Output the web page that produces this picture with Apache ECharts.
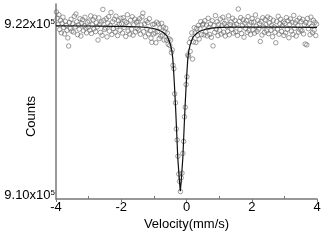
<!DOCTYPE html>
<html><head><meta charset="utf-8">
<script src="https://cdn.jsdelivr.net/npm/echarts@6/dist/echarts.min.js"></script>
<style>html,body{margin:0;padding:0;background:#fff}#c{width:323px;height:243px}</style>
</head><body><div id="c"></div>
<script>
// Channel grid of the spectrum (mm/s)
const velStart = -3.9875;
const velStep = 0.025;
const counts = [
9.2284,9.2241,9.2198,9.2265,9.2161,9.2226,9.2138,9.2206,9.2248,9.2176,9.2131,9.2219,9.2191,9.2156,9.2103,9.2046,9.2211,9.2168,9.2233,9.2150,
9.2201,9.2144,9.2254,9.2181,9.2270,9.2216,9.2126,9.2194,9.2164,9.2237,9.2116,9.2205,9.2230,9.2153,9.2188,9.2247,9.2171,9.2138,9.2213,9.2177,
9.2221,9.2157,9.2257,9.2134,9.2195,9.2230,9.2166,9.2248,9.2147,9.2209,9.2179,9.2088,9.2243,9.2198,9.2141,9.2214,9.2121,9.2302,9.2225,9.2162,
9.2173,9.2237,9.2110,9.2206,9.2251,9.2150,9.2189,9.2281,9.2127,9.2216,9.2168,9.2233,9.2144,9.2255,9.2182,9.2119,9.2223,9.2200,9.2156,9.2240,
9.2202,9.2137,9.2244,9.2176,9.2221,9.2113,9.2210,9.2265,9.2151,9.2193,9.2130,9.2227,9.2164,9.2251,9.2122,9.2196,9.2234,9.2145,9.2212,9.2169,
9.2220,9.2158,9.2237,9.2129,9.2193,9.2250,9.2276,9.2146,9.2200,9.2111,9.2222,9.2166,9.2210,9.2131,9.2237,9.2153,9.2101,9.2072,9.2196,9.2130,
9.2200,9.2137,9.2069,9.2213,9.2147,9.2201,9.2098,9.2173,9.2115,9.2205,9.2123,9.2179,9.2088,9.2145,9.2171,9.2088,9.2137,9.2058,9.2097,9.2050,
9.2088,9.2000,9.2019,9.1911,9.1887,9.1711,9.1649,9.1466,9.1389,9.1275,9.1151,9.1099,9.1028,9.1124,9.1157,9.1295,9.1379,9.1551,9.1618,9.1777,
9.1831,9.1983,9.1976,9.2070,9.2009,9.2099,9.2138,9.1955,9.2075,9.2174,9.2137,9.2071,9.2169,9.2120,9.2190,9.2095,9.2167,9.2217,9.2126,9.2194,
9.2201,9.2124,9.2223,9.2145,9.2192,9.2117,9.2240,9.2176,9.2127,9.2200,9.2107,9.2223,9.2047,9.2189,9.2142,9.2259,9.2164,9.2216,9.2119,9.2198,
9.2157,9.2235,9.2130,9.2190,9.2247,9.2142,9.2203,9.2116,9.2221,9.2182,9.2149,9.2257,9.2125,9.2196,9.2214,9.2163,9.2240,9.2137,9.2186,9.2225,
9.2145,9.2199,9.2120,9.2305,9.2218,9.2162,9.2245,9.2133,9.2189,9.2230,9.2108,9.2207,9.2170,9.2223,9.2141,9.2252,9.2156,9.2194,9.2127,9.2211,
9.2238,9.2159,9.2214,9.2136,9.2263,9.2185,9.2148,9.2226,9.2165,9.2203,9.2078,9.2217,9.2123,9.2244,9.2180,9.2141,9.2231,9.2196,9.2152,9.2249,
9.2133,9.2207,9.2239,9.2156,9.2191,9.2111,9.2226,9.2180,9.2142,9.2069,9.2218,9.2165,9.2254,9.2129,9.2201,9.2233,9.2148,9.2187,9.2215,9.2120,
9.2204,9.2138,9.2245,9.2163,9.2222,9.2104,9.2196,9.2235,9.2151,9.2213,9.2127,9.2260,9.2170,9.2208,9.2116,9.2224,9.2189,9.2144,9.2241,9.2159,
9.2217,9.2153,9.2232,9.2131,9.2194,9.2060,9.2210,9.2054,9.2239,9.2167,9.2205,9.2125,9.2248,9.2183,9.2140,9.2226,9.2157,9.2212,9.2119,9.2199
];
// Fitted curve
const fitVel = [-4.0,-3.0,-2.69,-1.79,-1.39,-1.09,-0.94,-0.79,-0.69,-0.59,-0.54,-0.49,-0.45,-0.42,-0.39,-0.365,-0.333,-0.30,-0.267,-0.23,-0.21,-0.19,-0.17,-0.15,-0.113,-0.08,-0.047,-0.015,0.01,0.04,0.07,0.11,0.16,0.21,0.31,0.41,0.56,0.71,1.01,1.41,2.31,3.0,4.0];
const fitCounts = [9.2187,9.2186,9.2185,9.2182,9.2179,9.2172,9.2164,9.2151,9.2137,9.2113,9.2088,9.2053,9.2013,9.1958,9.1853,9.1753,9.1608,9.1438,9.1263,9.1143,9.1083,9.1030,9.1082,9.1142,9.1262,9.1437,9.1607,9.1752,9.1852,9.1957,9.2012,9.2052,9.2087,9.2112,9.2135,9.2149,9.2162,9.2170,9.2176,9.2178,9.2179,9.2178,9.2177];
// Axis ticks
const xMajorTicks = [-4,-2,0,2,4];
const xMinorTicks = [-3,-1,1,3];
const yTickLabels = [9.10, 9.22];

const scatterData = counts.map((c, i) => [velStart + i * velStep, c]);
const fitData = fitVel.map((v, i) => [v, fitCounts[i]]);

const FONT = 'Liberation Sans, Arial, sans-serif';
const axisColor = '#777';
const chart = echarts.init(document.getElementById('c'), null, {renderer: 'canvas'});
chart.setOption({
  animation: false,
  backgroundColor: '#fff',
  grid: {left: 56, right: 6, top: 4, bottom: 44, containLabel: false, outerBoundsMode: 'none'},
  xAxis: [{
    type: 'value', min: -4, max: 4, interval: 2,
    name: 'Velocity(mm/s)', nameLocation: 'middle', nameGap: 19, nameMoveOverlap: false,
    nameTextStyle: {fontFamily: FONT, fontSize: 13, color: '#000'},
    axisLine: {show: true, onZero: false, lineStyle: {color: axisColor, width: 1.5}},
    axisTick: {show: true, inside: false, length: 3, lineStyle: {color: axisColor, width: 1}},
    axisLabel: {fontFamily: FONT, fontSize: 13, color: '#000', margin: 2, customValues: xMajorTicks},
    splitLine: {show: false}
  }, {
    type: 'value', min: -4, max: 4, position: 'bottom',
    axisLine: {show: false},
    axisTick: {show: true, inside: true, length: 3, customValues: xMinorTicks, lineStyle: {color: axisColor, width: 1}},
    axisLabel: {show: false},
    splitLine: {show: false}
  }],
  yAxis: {
    type: 'value', min: 9.0976, max: 9.2340,
    name: 'Counts', nameLocation: 'middle', nameGap: 18, nameRotate: 90, nameMoveOverlap: false,
    nameTextStyle: {fontFamily: FONT, fontSize: 13, color: '#000', padding: [0, 30, 0, 0]},
    axisLine: {show: true, onZero: false, lineStyle: {color: axisColor, width: 1.5}},
    axisTick: {show: false},
    axisLabel: {
      margin: 1, customValues: yTickLabels,
      formatter: v => '{a|' + v.toFixed(2) + 'x10}{s|5}',
      rich: {
        a: {fontFamily: FONT, fontSize: 13, color: '#000'},
        s: {fontFamily: FONT, fontSize: 8, color: '#000', verticalAlign: 'top'}
      }
    },
    splitLine: {show: false}
  },
  series: [{
    type: 'scatter', xAxisIndex: 0, data: scatterData,
    symbol: 'circle', symbolSize: 4.5,
    itemStyle: {color: 'rgba(0,0,0,0)', borderColor: '#666', borderWidth: 0.8},
    silent: true
  }, {
    type: 'line', xAxisIndex: 0, data: fitData, showSymbol: false, symbol: 'none',
    lineStyle: {color: '#111', width: 1.2}, z: 5, silent: true
  }]
});
</script></body></html>
